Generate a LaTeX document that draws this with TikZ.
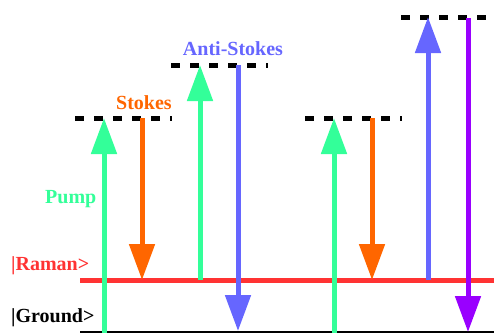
\documentclass[tikz,border=0pt]{standalone}
\usepackage{fontspec}
\setmainfont{Liberation Serif}
\usetikzlibrary{arrows.meta}
\definecolor{pumpgreen}{RGB}{51,255,153}
\definecolor{stokesorange}{RGB}{255,102,0}
\definecolor{antiblue}{RGB}{102,102,255}
\definecolor{ramanred}{RGB}{255,51,51}
\definecolor{violetline}{RGB}{153,0,255}
\tikzset{
  virtual/.style={line width=5pt, dash pattern=on 9pt off 10pt},
  transition/.style={line width=5pt, -{Triangle[width=25pt,length=36pt]}},
  lbl/.style={font=\fontsize{20}{24}\selectfont\bfseries, inner sep=0pt},
}
\begin{document}
\begin{tikzpicture}[x=1pt,y=-1pt]
\useasboundingbox (0,0) rectangle (494,333);
% energy levels
\coordinate (g0) at (80,332);   \coordinate (g1) at (494,332);
\coordinate (r0) at (80,280);   \coordinate (r1) at (494,280);
\coordinate (v1a) at (75,118);  \coordinate (v1b) at (172,118);
\coordinate (v2a) at (171,65);  \coordinate (v2b) at (268,65);
\coordinate (v3a) at (305,118); \coordinate (v3b) at (402,118);
\coordinate (v4a) at (401,17);  \coordinate (v4b) at (494,17);
\draw[line width=2.5pt] (g0) -- (g1);
\draw[ramanred, line width=5pt] (r0) -- (r1);
\draw[virtual] (v1a) -- (v1b);
\draw[virtual] (v2a) -- (v2b);
\draw[virtual] (v3a) -- (v3b);
\draw[virtual] (v4a) -- (v4b);
% transition end points
\coordinate (p1b) at (104,333); \coordinate (p1t) at (104,118);
\coordinate (s1t) at (142,118); \coordinate (s1b) at (142,280);
\coordinate (p2b) at (200,280); \coordinate (p2t) at (200,65);
\coordinate (a1t) at (238,65);  \coordinate (a1b) at (238,331);
\coordinate (p3b) at (334,333); \coordinate (p3t) at (334,118);
\coordinate (s2t) at (372,118); \coordinate (s2b) at (372,280);
\coordinate (b2b) at (428,280); \coordinate (b2t) at (428,17);
\coordinate (u1t) at (468,18);  \coordinate (u1b) at (468,332);
% transitions
\draw[transition, pumpgreen] (p1b) -- (p1t);
\draw[transition, stokesorange] (s1t) -- (s1b);
\draw[transition, pumpgreen] (p2b) -- (p2t);
\draw[transition, antiblue] (a1t) -- (a1b);
\draw[transition, pumpgreen] (p3b) -- (p3t);
\draw[transition, stokesorange] (s2t) -- (s2b);
\draw[transition, antiblue] (b2b) -- (b2t);
\draw[transition, violetline] (u1t) -- (u1b);
% labels
\node[lbl, anchor=base, text=stokesorange] (stokes) at (144,109) {Stokes};
\node[lbl, anchor=base, text=antiblue] (anti) at (233,55) {Anti-Stokes};
\node[lbl, anchor=base west, text=pumpgreen] (pump) at (45,203) {Pump};
\node[lbl, anchor=base west, text=ramanred] (raman) at (11,270) {|Raman>};
\node[lbl, anchor=base west] (ground) at (11,322) {|Ground>};
\end{tikzpicture}
\end{document}
